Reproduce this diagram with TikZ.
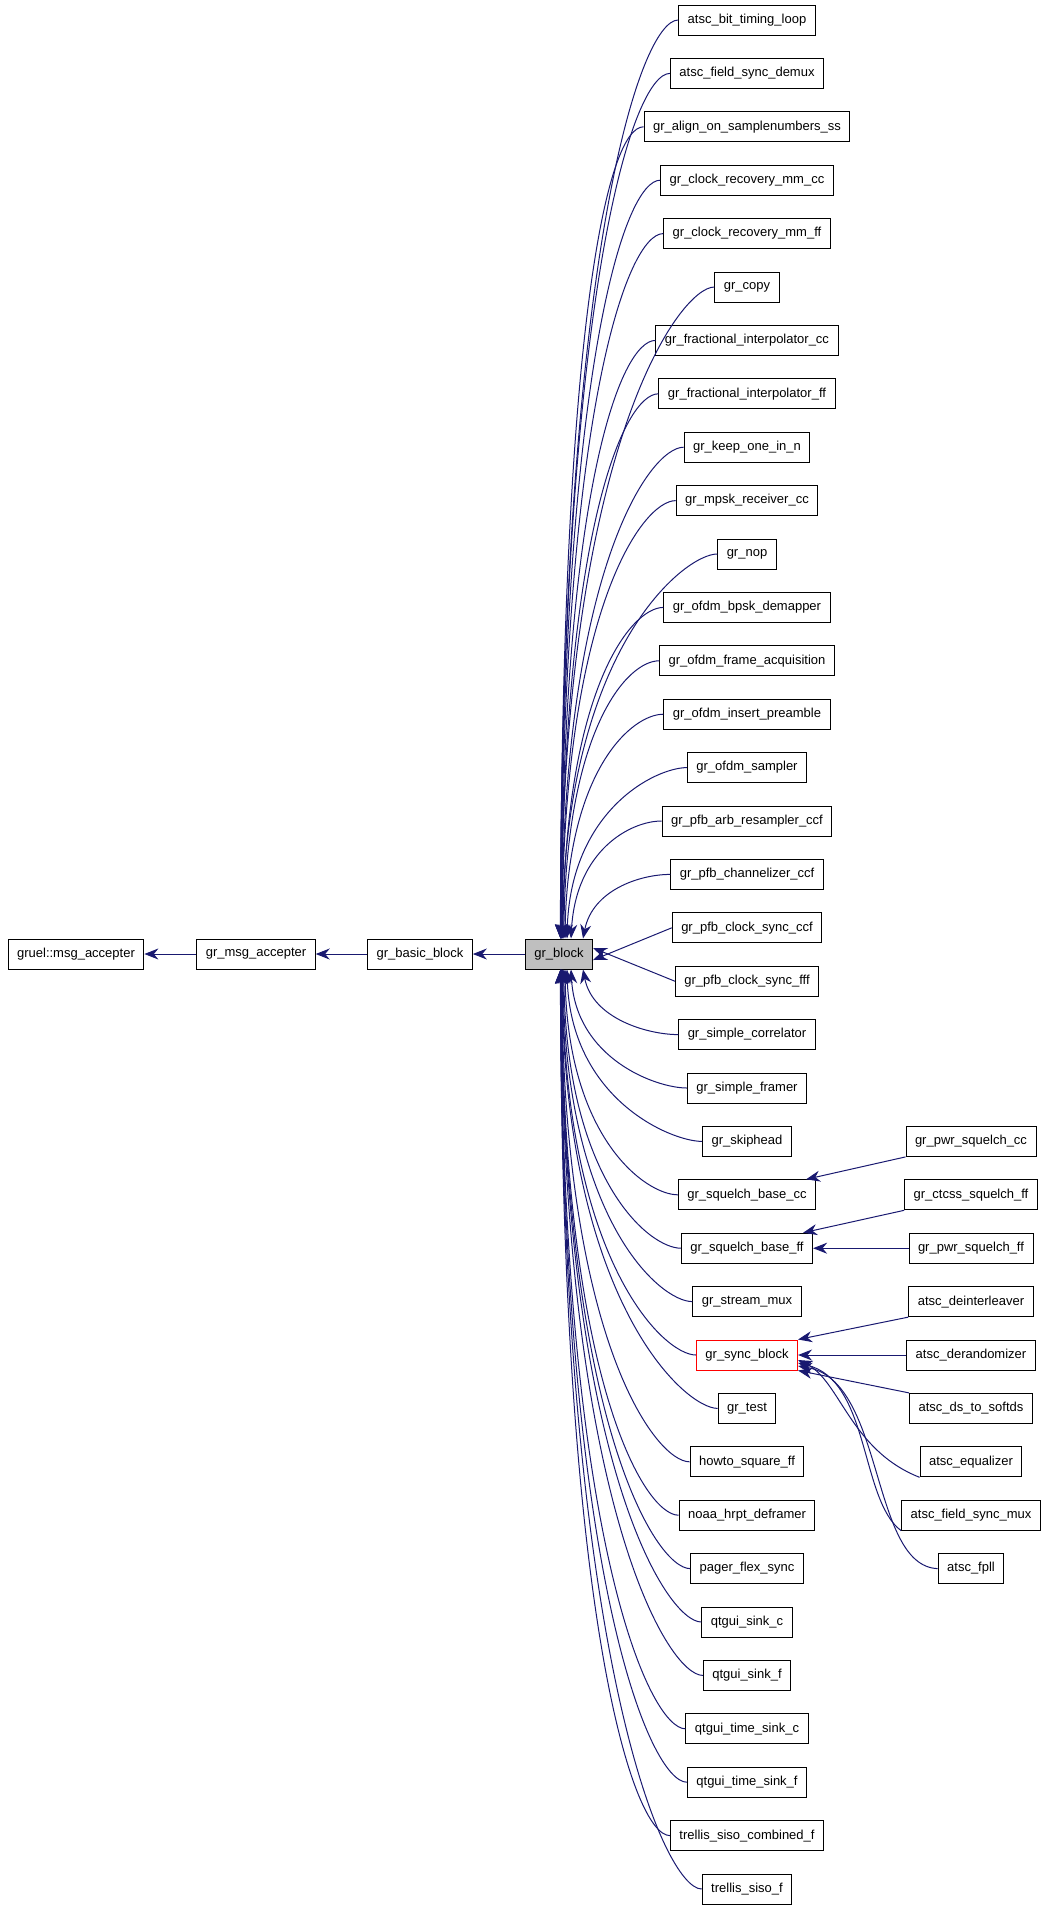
\documentclass[tikz,border=0pt]{standalone}
\usepackage{fontspec}
\setmainfont{Liberation Sans}
\usetikzlibrary{arrows.meta,calc}
\definecolor{edgec}{RGB}{25,25,112}
\begin{document}
\begin{tikzpicture}[x=1pt,y=-1pt,
  box/.style={draw=black,line width=1pt,minimum height=30pt,inner xsep=9pt,font=\fontsize{13}{14}\selectfont},
  edge/.style={draw=edgec,line width=1pt,{Stealth[length=14pt,width=11pt]}-}]
\useasboundingbox (0,0) rectangle (1048,1907);
\node[box] (gruel) at (76,954) {\detokenize{gruel::msg_accepter}};
\node[box] (gma) at (256,954) {\detokenize{gr_msg_accepter}};
\node[box] (gbb) at (420,954) {\detokenize{gr_basic_block}};
\node[box,fill={rgb,255:red,191;green,191;blue,191}] (gb) at (559,954) {\detokenize{gr_block}};
\draw[edge] (gruel) -- (gma);
\draw[edge] (gma) -- (gbb);
\draw[edge] (gbb) -- (gb);
\foreach \i/\t in {0/atsc_bit_timing_loop,1/atsc_field_sync_demux,2/gr_align_on_samplenumbers_ss,3/gr_clock_recovery_mm_cc,4/gr_clock_recovery_mm_ff,5/gr_copy,6/gr_fractional_interpolator_cc,7/gr_fractional_interpolator_ff,8/gr_keep_one_in_n,9/gr_mpsk_receiver_cc,10/gr_nop,11/gr_ofdm_bpsk_demapper,12/gr_ofdm_frame_acquisition,13/gr_ofdm_insert_preamble,14/gr_ofdm_sampler,15/gr_pfb_arb_resampler_ccf,16/gr_pfb_channelizer_ccf,17/gr_pfb_clock_sync_ccf,18/gr_pfb_clock_sync_fff,19/gr_simple_correlator,20/gr_simple_framer,21/gr_skiphead,22/gr_squelch_base_cc,23/gr_squelch_base_ff,24/gr_stream_mux,26/gr_test,27/howto_square_ff,28/noaa_hrpt_deframer,29/pager_flex_sync,30/qtgui_sink_c,31/qtgui_sink_f,32/qtgui_time_sink_c,33/qtgui_time_sink_f,34/trellis_siso_combined_f,35/trellis_siso_f}{
  \node[box] (n\i) at (747,{20+\i*53.4}) {\detokenize\expandafter{\t}};
}
\node[box,draw=red] (n25) at (747,{20+25*53.4}) {\detokenize{gr_sync_block}};
\draw[edge] ([yshift=-6pt]gb.east) -- (n17.west);
\draw[edge] ([yshift=6pt]gb.east) -- (n18.west);
\foreach \i in {0,...,16}{
  \pgfmathsetmacro\k{17-\i}
  \pgfmathsetmacro\d{24/\k}
  \pgfmathsetmacro\dy{(954-15)-(20+\i*53.4)}
  \draw[edge] ([xshift=\d pt]gb.north) .. controls +(\d*0.4,-0.75*\dy) and ($(n\i.west)+(-0.45*\k-30,0)$) .. (n\i.west);
}
\foreach \i in {19,...,35}{
  \pgfmathsetmacro\k{\i-18}
  \pgfmathsetmacro\d{24/\k}
  \pgfmathsetmacro\dy{(20+\i*53.4)-(954+15)}
  \draw[edge] ([xshift=\d pt]gb.south) .. controls +(\d*0.4,0.75*\dy) and ($(n\i.west)+(-0.45*\k-30,0)$) .. (n\i.west);
}
% right column
\foreach \i/\t in {21/gr_pwr_squelch_cc,22/gr_ctcss_squelch_ff,23/gr_pwr_squelch_ff,24/atsc_deinterleaver,25/atsc_derandomizer,26/atsc_ds_to_softds,27/atsc_equalizer,28/atsc_field_sync_mux,29/atsc_fpll}{
  \node[box] (r\i) at (971,{20+\i*53.4}) {\detokenize\expandafter{\t}};
}
\draw[edge] ([xshift=-10pt]n22.north east) -- (r21.south west);
\draw[edge] ([xshift=-10pt]n23.north east) -- (r22.south west);
\draw[edge] (n23.east) -- (r23.west);
\draw[edge] (n25.north east) -- (r24.south west);
\draw[edge] (n25.east) -- (r25.west);
\draw[edge] (n25.south east) -- (r26.north west);
\draw[edge] ([yshift=-5pt]n25.east) .. controls (840,1380) and (850,1450) .. (r27.south west);
\draw[edge] ([yshift=-8pt]n25.east) .. controls (870,1380) and (860,1500) .. (r28.south west);
\draw[edge] ([yshift=-11pt]n25.east) .. controls (885,1380) and (870,1566) .. (r29.west);
\end{tikzpicture}
\end{document}
